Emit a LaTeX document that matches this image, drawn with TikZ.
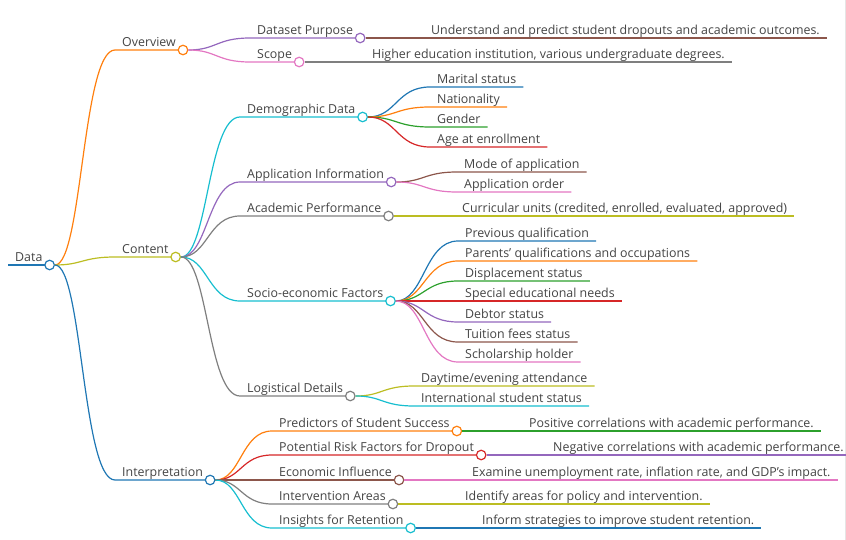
\documentclass[tikz,border=0pt]{standalone}
\usepackage{fontspec}
\setmainfont{Open Sans}[Ligatures=ResetAll]
\usepackage{tikz}
\usetikzlibrary{calc}
\definecolor{mmblue}{HTML}{1F77B4}
\definecolor{mmorange}{HTML}{FF7F0E}
\definecolor{mmgreen}{HTML}{2CA02C}
\definecolor{mmred}{HTML}{D62728}
\definecolor{mmpurple}{HTML}{9467BD}
\definecolor{mmbrown}{HTML}{8C564B}
\definecolor{mmpink}{HTML}{E377C2}
\definecolor{mmgray}{HTML}{7F7F7F}
\definecolor{mmolive}{HTML}{BCBD22}
\definecolor{mmcyan}{HTML}{17BECF}
\definecolor{ink}{HTML}{444444}

\begin{document}
\begin{tikzpicture}
	[x=1pt, y=-1pt,
	topic/.style={anchor=south west, inner xsep=7pt, inner ysep=1pt, text height=9pt, text depth=2.5pt, text=ink, font=\fontsize{12.4}{14}\selectfont},
	knob/.style={circle, draw=#1, fill=white, line width=1.2pt, minimum size=9.5pt, inner sep=0pt},
	rule/.style={draw=#1, line width=1.2pt},
	branch/.style={draw=#1, line width=1.2pt, to path={.. controls ($(\tikztostart)!.5!(\tikztotarget|-\tikztostart)$) and ($(\tikztotarget)!.5!(\tikztostart|-\tikztotarget)$) .. (\tikztotarget) \tikztonodes}}]
	\useasboundingbox (0,0) rectangle (846,540);
	\draw[gray!20] (845,0) -- (845,540);

	% root
	\node[topic] (dat) at (8,265) {Data};
	\draw[rule=mmblue] (dat.south west) -- (dat.south east) node[knob=mmblue] (datk) {};

	% first level
	\node[topic] (ovw) at (115,50) {Overview};
	\node[topic] (cnt) at (115,257) {Content};
	\node[topic] (itp) at (115,480) {Interpretation};
	\draw[branch=mmorange] (datk) to (ovw.south west) -- (ovw.south east) node[knob=mmorange] (ovwk) {};
	\draw[branch=mmolive] (datk) to (cnt.south west) -- (cnt.south east) node[knob=mmolive] (cntk) {};
	\draw[branch=mmblue] (datk) to (itp.south west) -- (itp.south east) node[knob=mmblue] (itpk) {};

	% overview
	\node[topic] (purp) at (250,38) {Dataset Purpose};
	\node[topic] (scop) at (250,62) {Scope};
	\draw[branch=mmpurple] (ovwk) to (purp.south west) -- (purp.south east) node[knob=mmpurple] (purpk) {};
	\draw[branch=mmpink] (ovwk) to (scop.south west) -- (scop.south east) node[knob=mmpink] (scopk) {};
	\node[topic] (purpl) at (424,38) {Understand and predict student dropouts and academic outcomes.};
	\node[topic] (scopl) at (365,62) {Higher education institution, various undergraduate degrees.};
	\draw[branch=mmbrown] (purpk) to (purpl.south west) -- (purpl.south east);
	\draw[branch=mmgray] (scopk) to (scopl.south west) -- (scopl.south east);

	% content
	\node[topic] (demo) at (240,117) {Demographic Data};
	\node[topic] (appl) at (240,182) {Application Information};
	\node[topic] (acad) at (240,216) {Academic Performance};
	\node[topic] (soci) at (240,301) {Socio-economic Factors};
	\node[topic] (logi) at (240,396) {Logistical Details};
	\draw[branch=mmcyan] (cntk) to (demo.south west) -- (demo.south east) node[knob=mmcyan] (demok) {};
	\draw[branch=mmpurple] (cntk) to (appl.south west) -- (appl.south east) node[knob=mmpurple] (applk) {};
	\draw[branch=mmgray] (cntk) to (acad.south west) -- (acad.south east) node[knob=mmgray] (acadk) {};
	\draw[branch=mmcyan] (cntk) to (soci.south west) -- (soci.south east) node[knob=mmcyan] (socik) {};
	\draw[branch=mmgray] (cntk) to (logi.south west) -- (logi.south east) node[knob=mmgray] (logik) {};

	% demographic data
	\node[topic] (mar) at (430,87) {Marital status};
	\node[topic] (nat) at (430,107) {Nationality};
	\node[topic] (gen) at (430,127) {Gender};
	\node[topic] (age) at (430,147) {Age at enrollment};
	\draw[branch=mmblue] (demok) to (mar.south west) -- (mar.south east);
	\draw[branch=mmorange] (demok) to (nat.south west) -- (nat.south east);
	\draw[branch=mmgreen] (demok) to (gen.south west) -- (gen.south east);
	\draw[branch=mmred] (demok) to (age.south west) -- (age.south east);

	% application information
	\node[topic] (mode) at (457,172) {Mode of application};
	\node[topic] (ord) at (457,192) {Application order};
	\draw[branch=mmbrown] (applk) to (mode.south west) -- (mode.south east);
	\draw[branch=mmpink] (applk) to (ord.south west) -- (ord.south east);

	% academic performance
	\node[topic] (cur) at (455,216) {Curricular units (credited, enrolled, evaluated, approved)};
	\draw[branch=mmolive] (acadk) to (cur.south west) -- (cur.south east);

	% socio-economic factors
	\node[topic] (prev) at (458,241) {Previous qualification};
	\node[topic] (par) at (458,261) {Parents' qualifications and occupations};
	\node[topic] (disp) at (458,281) {Displacement status};
	\node[topic] (spec) at (458,301) {Special educational needs};
	\node[topic] (debt) at (458,322) {Debtor status};
	\node[topic] (tuit) at (458,342) {Tuition fees status};
	\node[topic] (schol) at (458,362) {Scholarship holder};
	\draw[branch=mmblue] (socik) to (prev.south west) -- (prev.south east);
	\draw[branch=mmorange] (socik) to (par.south west) -- (par.south east);
	\draw[branch=mmgreen] (socik) to (disp.south west) -- (disp.south east);
	\draw[branch=mmred] (socik) to (spec.south west) -- (spec.south east);
	\draw[branch=mmpurple] (socik) to (debt.south west) -- (debt.south east);
	\draw[branch=mmbrown] (socik) to (tuit.south west) -- (tuit.south east);
	\draw[branch=mmpink] (socik) to (schol.south west) -- (schol.south east);

	% logistical details
	\node[topic] (day) at (414,386) {Daytime/evening attendance};
	\node[topic] (intl) at (414,406) {International student status};
	\draw[branch=mmolive] (logik) to (day.south west) -- (day.south east);
	\draw[branch=mmcyan] (logik) to (intl.south west) -- (intl.south east);

	% interpretation
	\node[topic] (pred) at (272,431) {Predictors of Student Success};
	\node[topic] (risk) at (272,455) {Potential Risk Factors for Dropout};
	\node[topic] (econ) at (272,480) {Economic Influence};
	\node[topic] (intv) at (272,504) {Intervention Areas};
	\node[topic] (insi) at (272,528) {Insights for Retention};
	\draw[branch=mmorange] (itpk) to (pred.south west) -- (pred.south east) node[knob=mmorange] (predk) {};
	\draw[branch=mmred] (itpk) to (risk.south west) -- (risk.south east) node[knob=mmred] (riskk) {};
	\draw[branch=mmbrown] (itpk) to (econ.south west) -- (econ.south east) node[knob=mmbrown] (econk) {};
	\draw[branch=mmgray] (itpk) to (intv.south west) -- (intv.south east) node[knob=mmgray] (intvk) {};
	\draw[branch=mmcyan] (itpk) to (insi.south west) -- (insi.south east) node[knob=mmcyan] (insik) {};
	\node[topic] (predl) at (522,431) {Positive correlations with academic performance.};
	\node[topic] (riskl) at (546,455) {Negative correlations with academic performance.};
	\node[topic] (econl) at (465,480) {Examine unemployment rate, inflation rate, and GDP's impact.};
	\node[topic] (intvl) at (458,504) {Identify areas for policy and intervention.};
	\node[topic] (insil) at (475,528) {Inform strategies to improve student retention.};
	\draw[branch=mmgreen] (predk) to (predl.south west) -- (predl.south east);
	\draw[branch=mmpurple] (riskk) to (riskl.south west) -- (riskl.south east);
	\draw[branch=mmpink] (econk) to (econl.south west) -- (econl.south east);
	\draw[branch=mmolive] (intvk) to (intvl.south west) -- (intvl.south east);
	\draw[branch=mmblue] (insik) to (insil.south west) -- (insil.south east);
\end{tikzpicture}
\end{document}
